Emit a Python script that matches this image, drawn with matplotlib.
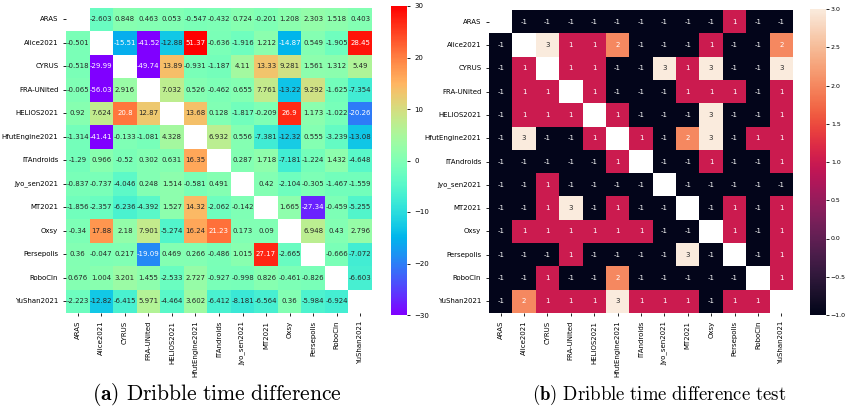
import numpy as np
import matplotlib
matplotlib.use("Agg")
import matplotlib.pyplot as plt
import seaborn as sns

nan = np.nan
teams = ["ARAS", "Alice2021", "CYRUS", "FRA-UNited", "HELIOS2021", "HfutEngine2021",
         "ITAndroids", "Jyo_sen2021", "MT2021", "Oxsy", "Persepolis", "RoboCln", "YuShan2021"]

diff_aras = [nan, -2.603, 0.848, 0.463, 0.053, -0.547, -0.432, 0.724, -0.201, 1.208, 2.303, 1.518, 0.403]
diff_alice = [-0.501, nan, -15.51, -41.52, -12.88, 51.37, -0.636, -1.916, 1.212, -14.87, 0.549, -1.905, 28.45]
diff_cyrus = [-0.518, -29.99, nan, -49.74, 13.89, -0.931, -1.187, 4.11, 13.33, 9.281, 1.561, 1.312, 5.49]
diff_fra = [-0.065, -56.03, 2.916, nan, 7.032, 0.526, -0.462, 0.655, 7.761, -13.22, 9.292, -1.625, -7.354]
diff_helios = [0.92, 7.624, 20.8, 12.87, nan, 13.68, 0.128, -1.817, -0.209, 26.9, 1.173, -1.022, -20.26]
diff_hfut = [-1.314, -41.41, -0.133, -1.081, 4.328, nan, 6.932, 0.556, -7.381, -12.32, 0.555, -3.239, -13.08]
diff_ita = [-1.29, 0.966, -0.52, 0.302, 0.631, 16.35, nan, 0.287, 1.718, -7.181, -1.224, 1.432, -4.648]
diff_jyo = [-0.837, -0.737, -4.046, 0.248, 1.514, -0.581, 0.491, nan, 0.42, -2.104, -0.305, -1.467, -1.559]
diff_mt = [-1.856, -2.357, -6.236, -4.392, 1.527, 14.32, -2.062, -0.142, nan, 1.665, -27.34, -0.459, -5.255]
diff_oxsy = [-0.34, 17.88, 2.18, 7.901, -5.274, 16.24, 21.23, 0.173, 0.09, nan, 6.948, 0.43, 2.796]
diff_pers = [0.36, -0.047, 0.217, -19.09, 0.469, 0.266, -0.486, 1.015, 27.17, -2.665, nan, -0.666, -7.072]
diff_robo = [0.676, 1.004, 3.201, 1.455, -2.533, 2.727, -0.927, -0.998, 0.826, -0.461, -0.826, nan, -6.603]
diff_yushan = [-2.223, -12.82, -6.415, 5.971, -4.464, 3.602, -6.412, -8.181, -6.564, 0.36, -5.984, -6.924, nan]

test_aras = [nan, -1, -1, -1, -1, -1, -1, -1, -1, -1, 1, -1, -1]
test_alice = [-1, nan, 3, 1, 1, 2, -1, -1, -1, 1, -1, -1, 2]
test_cyrus = [-1, 1, nan, 1, 1, -1, -1, 3, 1, 3, -1, -1, 3]
test_fra = [-1, 1, 1, nan, 1, -1, -1, -1, 1, 1, 1, -1, 1]
test_helios = [-1, 1, 1, 1, nan, 1, -1, -1, -1, 3, -1, -1, 1]
test_hfut = [-1, 3, -1, -1, 1, nan, 1, -1, 2, 3, -1, 1, 1]
test_ita = [-1, -1, -1, -1, -1, 1, nan, -1, -1, 1, -1, -1, 1]
test_jyo = [-1, -1, 1, -1, -1, -1, -1, nan, -1, -1, -1, -1, -1]
test_mt = [-1, -1, 1, 3, -1, 1, -1, -1, nan, -1, 1, -1, 1]
test_oxsy = [-1, 1, 1, 1, 1, 1, 1, -1, -1, nan, 1, -1, 1]
test_pers = [-1, -1, -1, 1, -1, -1, -1, -1, 3, -1, nan, -1, 1]
test_robo = [-1, -1, 1, -1, -1, 2, -1, -1, -1, -1, -1, nan, 1]
test_yushan = [-1, 2, 1, 1, 1, 3, 1, 1, 1, -1, 1, 1, nan]

diff = np.array([diff_aras, diff_alice, diff_cyrus, diff_fra, diff_helios, diff_hfut, diff_ita,
                 diff_jyo, diff_mt, diff_oxsy, diff_pers, diff_robo, diff_yushan], dtype=float)
test = np.array([test_aras, test_alice, test_cyrus, test_fra, test_helios, test_hfut, test_ita,
                 test_jyo, test_mt, test_oxsy, test_pers, test_robo, test_yushan], dtype=float)

plt.rcParams['mathtext.fontset'] = 'cm'
fig = plt.figure(figsize=(8.48, 4.12), dpi=100)
W, H = 848.0, 412.0

def ax_px(x0, y0, x1, y1):
    return fig.add_axes([x0 / W, 1 - y1 / H, (x1 - x0) / W, (y1 - y0) / H])

ax1 = ax_px(66, 7.5, 372, 313)
cax1 = ax_px(391, 6, 407, 315)
ax2 = ax_px(489, 10, 793, 313)
cax2 = ax_px(810, 9, 826, 315)

fs = 5
sns.heatmap(diff, ax=ax1, cbar_ax=cax1, cmap="rainbow", vmin=-30, vmax=30,
            annot=True, fmt=".4g", annot_kws={"fontsize": fs},
            xticklabels=teams, yticklabels=teams)
sns.heatmap(test, ax=ax2, cbar_ax=cax2, cmap="rocket", vmin=-1, vmax=3,
            annot=True, fmt=".4g", annot_kws={"fontsize": fs},
            xticklabels=teams, yticklabels=teams)

for ax in (ax1, ax2):
    ax.tick_params(axis='both', labelsize=fs, length=2, width=0.6)
    ax.set_xticklabels(teams, rotation=90, fontsize=fs)
    ax.set_yticklabels(teams, rotation=0, fontsize=fs)
cax1.tick_params(labelsize=fs, length=2, width=0.6)
cax2.tick_params(labelsize=4.5, length=2, width=0.6, pad=1.5)

fig.text(217 / W, 1 - 395 / H, r"$\mathbf{(a)}$ $\mathrm{Dribble\ time\ difference}$",
         ha='center', va='center', fontsize=15.5)
fig.text(659 / W, 1 - 395 / H, r"$\mathbf{(b)}$ $\mathrm{Dribble\ time\ difference\ test}$",
         ha='center', va='center', fontsize=13.5)

fig.savefig("out.png", dpi=100)
